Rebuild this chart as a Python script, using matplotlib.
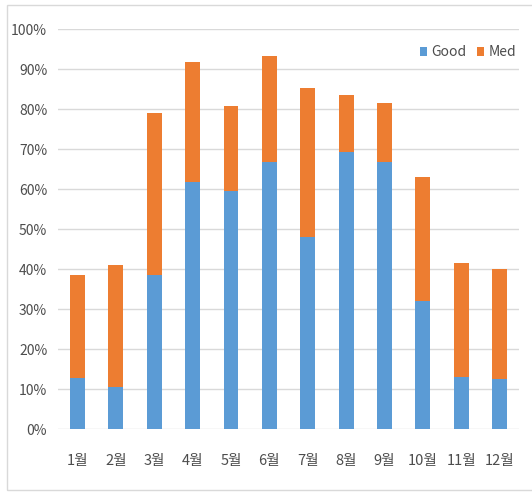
import matplotlib.pyplot as plt
from matplotlib.patches import Rectangle

months = ['1월', '2월', '3월', '4월', '5월', '6월', '7월', '8월', '9월', '10월', '11월', '12월']
good = [12.8, 10.6, 38.5, 61.8, 59.6, 66.7, 48.1, 69.3, 66.7, 32.1, 13.1, 12.5]
total = [38.5, 41.0, 79.0, 91.7, 80.7, 93.3, 85.3, 83.6, 81.6, 62.9, 41.4, 40.1]
med = [t - g for t, g in zip(total, good)]

plt.rcParams['font.family'] = ['Noto Sans CJK KR', 'DejaVu Sans']

fig = plt.figure(figsize=(5.32, 4.92), dpi=100)
ax = fig.add_axes([0.1096, 0.128, 0.8656, 0.813])

x = range(len(months))
ax.bar(x, good, width=0.39, color='#5B9BD5', label='Good', zorder=3)
ax.bar(x, med, width=0.39, bottom=good, color='#ED7D31', label='Med', zorder=3)

ax.set_xlim(-0.5, 11.5)
ax.set_ylim(0, 100)
ax.set_yticks(range(0, 101, 10))
ax.set_yticklabels([f'{v}%' for v in range(0, 101, 10)])
ax.set_xticks(list(x))
ax.set_xticklabels(months)
ax.yaxis.grid(True, color='#D9D9D9', linewidth=1, zorder=0)
ax.tick_params(length=0, labelsize=10, colors='#4D4D4D')
ax.tick_params(axis='x', pad=18, labelsize=10.5)
ax.tick_params(axis='y', pad=8)
for s in ax.spines.values():
    s.set_visible(False)

fig.legend(loc='center', bbox_to_anchor=(0.88, 0.894), ncol=2, frameon=False,
           handlelength=0.5, handleheight=0.65, handletextpad=0.3, columnspacing=0.8,
           fontsize=10, labelcolor='#4D4D4D')

# light frame around the chart
fig.patches.append(Rectangle((7 / 532, 1 - 490 / 492), 540 / 532, 485 / 492,
                             transform=fig.transFigure, fill=False,
                             edgecolor='#D9D9D9', linewidth=1))

fig.savefig('out.png', dpi=100)
